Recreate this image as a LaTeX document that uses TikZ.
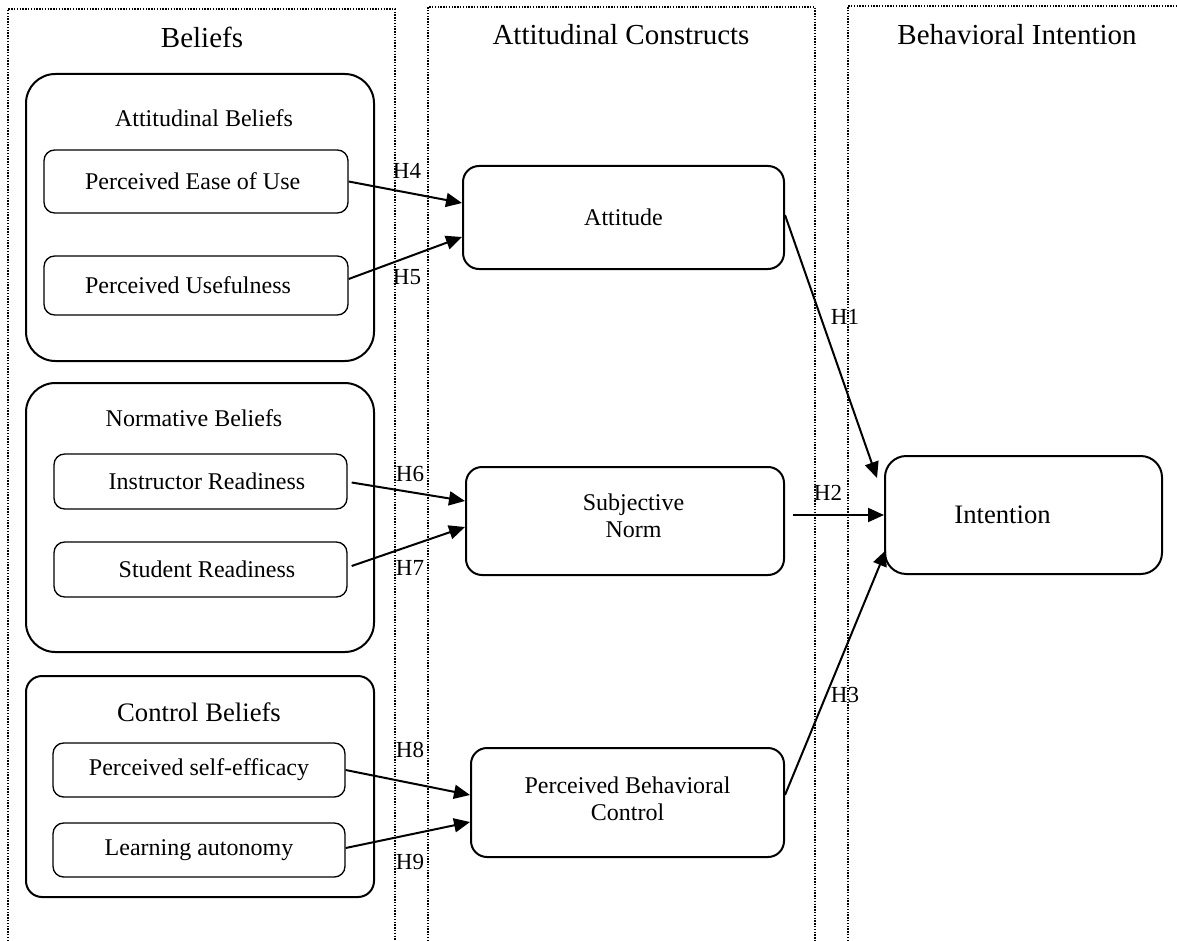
\documentclass[tikz,border=0pt]{standalone}
\usepackage{fontspec}
\setmainfont{Liberation Serif}
\usetikzlibrary{arrows.meta,calc}
\begin{document}
\begin{tikzpicture}[x=0.75pt,y=-0.75pt,
  column/.style={line width=1pt, dash pattern=on 1pt off 1.1pt},
  coltitle/.style={inner sep=0pt, font=\fontsize{21.75}{25}\selectfont},
  size/.style 2 args={minimum width={#1*0.75pt}, minimum height={#2*0.75pt}},
  group/.style={draw, line width=1.5pt, rounded corners=22pt, inner sep=0pt},
  grouptitle/.style={inner sep=0pt, font=\fontsize{18}{21}\selectfont},
  item/.style={draw, line width=1pt, rounded corners=8pt, inner sep=0pt,
    font=\fontsize{18}{21}\selectfont},
  construct/.style={draw, line width=1.5pt, rounded corners=12pt, inner sep=0pt,
    align=center, font=\fontsize{18}{20.5}\selectfont},
  hyp/.style={inner sep=0pt, font=\fontsize{17.25}{20}\selectfont},
  arrow/.style={line width=1.5pt, -{Triangle[length=12pt,width=10.5pt]}}
]
\useasboundingbox[fill=white] (0,0) rectangle (1177,941);

% dotted column frames
\draw[column] (8,941) -- (8,9) -- (395,9) -- (395,941);
\draw[column] (428,941) -- (428,7) -- (815,7) -- (815,941);
\draw[column] (848,941) -- (848,6) -- (1177,6);

\node[coltitle] (tBel) at (202,37) {Beliefs};
\node[coltitle] (tAtt) at (621,35) {Attitudinal Constructs};
\node[coltitle] (tBeh) at (1017,35) {Behavioral Intention};

% belief groups
\node[group, size={348}{287}] (gAtt) at (200,217.5) {};
\node[grouptitle] (lAtt) at (204,118) {Attitudinal Beliefs};
\node[item, size={304}{63}] (peou) at (196,181.5) {Perceived Ease of Use\hspace*{5pt}};
\node[item, size={304}{59}] (pu) at (196,285.5) {Perceived Usefulness\hspace*{12pt}};

\node[group, size={348}{269}] (gNorm) at (200,517.5) {};
\node[grouptitle] (lNorm) at (194,418) {Normative Beliefs};
\node[item, size={293}{55}] (ir) at (200.5,481.5) {\hspace*{9.75pt}Instructor Readiness};
\node[item, size={293}{55}] (sr) at (200.5,569.5) {\hspace*{9.75pt}Student Readiness};

\node[group, rounded corners=12pt, size={348}{221}] (gCtrl) at (200,786.5) {};
\node[grouptitle, font=\fontsize{20}{23}\selectfont] (lCtrl) at (199,712) {Control Beliefs};
\node[item, size={292}{54}] (pse) at (199,770) {Perceived self-efficacy};
\node[item, size={292}{54}] (la) at (199,850) {Learning autonomy};

% attitudinal constructs
\node[construct, size={321}{103}] (att) at (623.5,217.5) {Attitude};
\node[construct, size={318}{108}] (sn) at (625,521)
  {\hspace*{12.75pt}Subjective\\\hspace*{12.75pt}Norm\\[-13pt]};
\node[construct, size={313}{109}] (pbc) at (627.5,802.5)
  {Perceived Behavioral\\Control\\[-14.5pt]};

% behavioral intention
\node[construct, rounded corners=16pt, font=\fontsize{20}{23}\selectfont,
  size={277}{118}] (int) at (1023.5,515) {Intention\hspace*{31.5pt}};

% hypothesised paths
\draw[arrow] (peou.east) -- ($(att.west)+(0,-14.5)$);
\draw[arrow] ($(pu.east)+(0,-6.5)$) -- ($(att.west)+(0,19.5)$);
\draw[arrow] ($(ir.east)+(4,1)$) -- ($(sn.west)+(0,-20)$);
\draw[arrow] ($(sr.east)+(4,-3.5)$) -- ($(sn.west)+(0,6)$);
\draw[arrow] (pse.east) -- ($(pbc.west)+(0,-7.5)$);
\draw[arrow] ($(la.east)+(0,-2)$) -- ($(pbc.west)+(0,19.5)$);
\draw[arrow] ($(att.east)+(0,-2.5)$) -- ($(int.west)+(-7,-37)$);
\draw[arrow] ($(sn.east |- int.west)+(8,0)$) -- (int.west);
\draw[arrow] ($(pbc.east)+(0,-7.5)$) -- ($(int.west)+(2,35)$);

\node[hyp] (h4) at (407,171) {H4};
\node[hyp] (h5) at (407,277) {H5};
\node[hyp] (h6) at (410,474) {H6};
\node[hyp] (h7) at (410,568) {H7};
\node[hyp] (h8) at (410,750) {H8};
\node[hyp] (h9) at (410,862) {H9};
\node[hyp] (h1) at (845,317) {H1};
\node[hyp] (h2) at (828,493) {H2};
\node[hyp] (h3) at (845,695) {H3};
\end{tikzpicture}
\end{document}
